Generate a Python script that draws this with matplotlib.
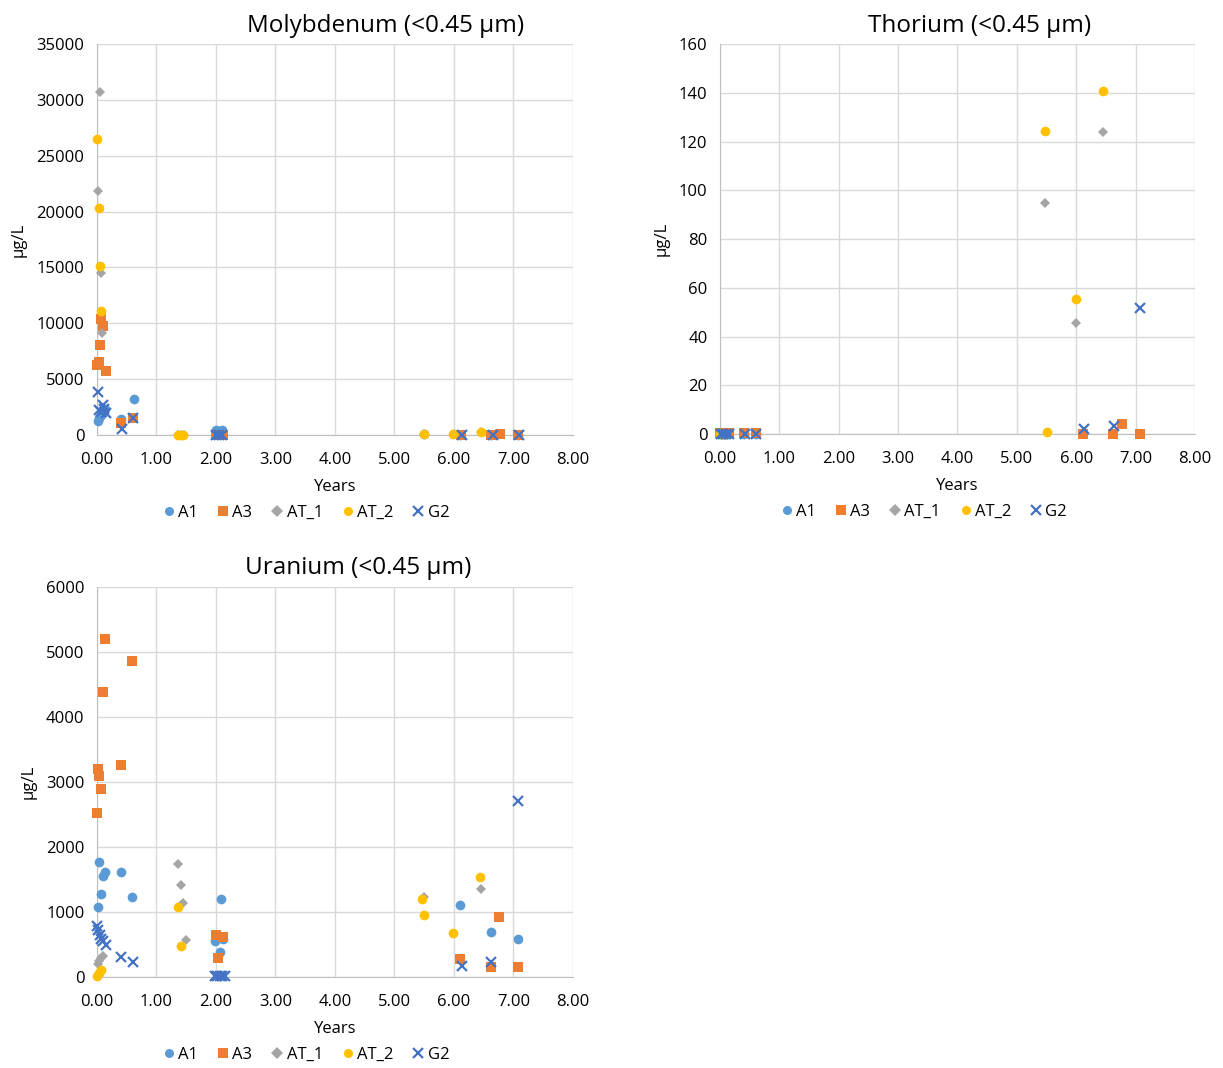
import matplotlib
matplotlib.use("Agg")
import matplotlib.pyplot as plt

plt.rcParams['font.family'] = ['Open Sans', 'DejaVu Sans']

series = ['A1', 'A3', 'AT_1', 'AT_2', 'G2']
colors = {'A1': '#5B9BD5', 'A3': '#ED7D31', 'AT_1': '#A5A5A5', 'AT_2': '#FFC000', 'G2': '#4472C4'}
markers = {'A1': 'o', 'A3': 's', 'AT_1': 'D', 'AT_2': 'o', 'G2': 'x'}
msize = {'A1': 7, 'A3': 7, 'AT_1': 5, 'AT_2': 7, 'G2': 7.5}

# Molybdenum (<0.45 um), ug/L
mo_x = {
    'A1': [0.02, 0.04, 0.07, 0.1, 0.13, 0.41, 0.62, 2.0, 2.05, 2.1, 5.5, 6.1, 6.62, 7.08],
    'A3': [0.0, 0.04, 0.05, 0.07, 0.1, 0.15, 0.41, 0.61, 2.0, 2.04, 2.12, 6.12, 6.62, 6.77, 7.08],
    'AT_1': [0.01, 0.05, 0.06, 0.08, 1.37, 1.42, 1.47, 5.49, 6.0, 6.45],
    'AT_2': [0.005, 0.04, 0.05, 0.07, 1.37, 1.41, 1.45, 5.49, 5.99, 6.46],
    'G2': [0.02, 0.04, 0.07, 0.1, 0.12, 0.15, 0.42, 0.61, 2.0, 2.05, 2.1, 6.13, 6.65, 7.1],
}
mo_y = {
    'A1': [1250, 1500, 1800, 2000, 2300, 1400, 3250, 450, 350, 420, 50, 20, 20, 20],
    'A3': [6300, 6500, 8100, 10400, 9800, 5700, 1050, 1500, 30, 30, 30, 20, 20, 60, 20],
    'AT_1': [21800, 30700, 14500, 9100, 30, 30, 30, 80, 60, 250],
    'AT_2': [26500, 20300, 15100, 11100, 40, 40, 40, 80, 80, 300],
    'G2': [3850, 2200, 2100, 2700, 2300, 2000, 550, 1500, 20, 20, 20, 10, 10, 10],
}

# Thorium (<0.45 um), ug/L
th_x = {
    'A1': [0.02, 0.04, 0.07, 0.1, 0.13, 0.4, 0.6],
    'A3': [0.0, 0.04, 0.07, 0.1, 0.15, 0.41, 0.61, 6.12, 6.62, 6.77, 7.08],
    'AT_1': [0.01, 0.05, 0.08, 5.48, 6.0, 6.45],
    'AT_2': [0.005, 0.04, 0.07, 5.47, 5.5, 5.99, 6.45],
    'G2': [0.02, 0.05, 0.1, 0.15, 0.42, 0.61, 6.13, 6.63, 7.08],
}
th_y = {
    'A1': [0.2, 0.2, 0.2, 0.2, 0.2, 0.2, 0.2],
    'A3': [0.3, 0.3, 0.3, 0.3, 0.3, 0.3, 0.3, 0.2, 0.2, 4.0, 0.2],
    'AT_1': [0.2, 0.2, 0.2, 94.6, 45.4, 123.9],
    'AT_2': [0.2, 0.2, 0.2, 124.2, 1.0, 55.4, 140.8],
    'G2': [0.2, 0.2, 0.2, 0.2, 0.2, 0.2, 1.9, 3.4, 51.8],
}

# Uranium (<0.45 um), ug/L
u_x = {
    'A1': [0.02, 0.04, 0.07, 0.1, 0.13, 0.40, 0.59, 1.98, 2.06, 2.08, 2.12, 6.10, 6.62, 7.08],
    'A3': [0.005, 0.02, 0.04, 0.07, 0.1, 0.13, 0.40, 0.59, 2.0, 2.04, 2.12, 6.10, 6.62, 6.76, 7.08],
    'AT_1': [0.02, 0.04, 0.07, 0.1, 1.37, 1.41, 1.45, 1.50, 5.49, 6.45],
    'AT_2': [0.0, 0.03, 0.07, 1.37, 1.41, 5.47, 5.49, 5.99, 6.44],
    'G2': [0.0, 0.02, 0.05, 0.07, 0.1, 0.15, 0.40, 0.61, 1.98, 2.02, 2.06, 2.1, 2.15, 6.13, 6.63, 7.08],
}
u_y = {
    'A1': [1070, 1765, 1277, 1555, 1620, 1620, 1226, 560, 380, 1200, 590, 1108, 697, 580],
    'A3': [2520, 3195, 3090, 2890, 4380, 5200, 3260, 4860, 646, 287, 620, 277, 160, 918, 160],
    'AT_1': [200, 250, 300, 330, 1738, 1415, 1133, 570, 1235, 1354],
    'AT_2': [20, 60, 110, 1072, 482, 1195, 954, 682, 1543],
    'G2': [790, 720, 640, 590, 560, 490, 313, 226, 20, 20, 20, 20, 20, 169, 235, 2710],
}

x_ticks = [0, 1, 2, 3, 4, 5, 6, 7, 8]

fig = plt.figure(figsize=(12.23, 10.68), dpi=100)


def draw(ax, xs, ys, title, ymax, ystep, title_x, legend_x):
    for s in series:
        if markers[s] == 'x':
            ax.plot(xs[s], ys[s], ls='none', marker='x', ms=msize[s], mew=1.6,
                    color=colors[s], label=s, clip_on=False, zorder=3)
        else:
            ax.plot(xs[s], ys[s], ls='none', marker=markers[s], ms=msize[s],
                    mew=0, color=colors[s], label=s, clip_on=False, zorder=3)
    ax.set_xlim(0, 8)
    ax.set_ylim(0, ymax)
    ax.set_xticks(x_ticks)
    ax.set_xticklabels(['%.2f' % t for t in x_ticks])
    ax.set_yticks(range(0, ymax + 1, ystep))
    ax.grid(True, color='#d9d9d9', lw=1)
    ax.set_axisbelow(True)
    for sp in ['top', 'right']:
        ax.spines[sp].set_visible(False)
    for sp in ['left', 'bottom']:
        ax.spines[sp].set_color('#bfbfbf')
    ax.tick_params(length=0, labelsize=12, colors='#000000')
    ax.tick_params(axis='x', pad=12)
    ax.tick_params(axis='y', pad=9)
    ax.set_title(title, fontsize=17.5, pad=9, x=title_x)
    ax.set_xlabel('Years', fontsize=12, labelpad=8)
    ax.set_ylabel('µg/L', fontsize=12, labelpad=7)
    leg = ax.legend(loc='center', bbox_to_anchor=(legend_x, -0.2), ncol=5,
                    frameon=False, fontsize=12, handletextpad=0.05,
                    columnspacing=1.0, handlelength=1.0)
    for h in leg.legend_handles:
        h.set_markersize(6.5)
    return leg


ax1 = fig.add_axes([0.0793, 0.5927, 0.3892, 0.3661])
draw(ax1, mo_x, mo_y, 'Molybdenum (<0.45 µm)', 35000, 5000, 0.607, 0.437)

ax2 = fig.add_axes([0.5887, 0.5936, 0.3884, 0.3652])
draw(ax2, th_x, th_y, 'Thorium (<0.45 µm)', 160, 20, 0.547, 0.427)

ax3 = fig.add_axes([0.0793, 0.0852, 0.3892, 0.3652])
draw(ax3, u_x, u_y, 'Uranium (<0.45 µm)', 6000, 1000, 0.548, 0.437)

fig.savefig('out.png', dpi=100)
